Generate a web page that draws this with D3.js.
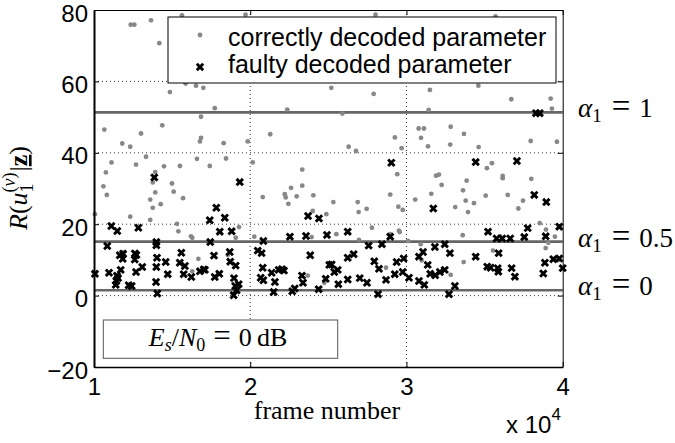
<!DOCTYPE html>
<html><head><meta charset="utf-8">
<script src="https://cdn.jsdelivr.net/npm/d3@7"></script>
<style>body{margin:0;background:#fff} svg{display:block}</style>
</head><body>
<svg id="chart" width="675" height="443"></svg>
<script>
// ---- data ----
const xTicks = [10000, 20000, 30000, 40000];
const yTicks = [-20, 0, 20, 40, 60, 80];
const alphaLevels = [
  {label: "1", value: 51.3},
  {label: "0.5", value: 15.1},
  {label: "0", value: 1.5}
];
// [frame number, R]
const correctlyDecoded = [
[12350,75.9],[12580,75.9],[13650,77.1],[14180,70.7],[15630,78.5],[19700,78.7],
[14860,57.0],[15860,59.4],[16530,58.8],[17000,58.2],[17730,52.5],[22370,52.1],[16850,50.1],
[10660,46.5],[14370,47.7],[13010,45.4],[11810,42.6],[12320,41.7],[16850,44.2],[16780,43.2],[18300,42.7],[19840,43.2],[21280,45.2],
[13330,38.9],[11120,37.3],[12690,36.7],[14480,36.2],[15500,36.3],[17410,36.3],[18450,38.4],[20160,37.3],[16590,38.3],
[10760,34.5],[10600,30.6],[10820,28.2],[10060,22.8],[13920,34.6],[13760,31.7],[13920,28.9],[13600,26.9],[13760,24.6],[14270,25.6],[14990,31.4],[15100,29.1],[15700,27.3],
[13600,21.2],[12320,22.1],[15310,20.1],[15400,18.0],[16210,16.6],[16290,16.2],[19280,19.2],[19070,16.2],
[20800,27.6],[22210,28.4],[22270,27.5],[22440,25.7],[22610,30.2],[22970,27.8],[23330,35.3],[23330,30.8],[24040,28.1],[24000,23.7],[24870,22.8],
[20260,16.5],[23930,16.4],[11860,12.2],[16680,10.3],[16290,6.8],[18560,11.4],[23680,5.6],[24740,3.6],
[25190,58.2],[28020,78.7],[35700,78.2],[27900,56.5],[31500,57.6],[34600,58.8],[36710,55.0],[39230,55.2],[39310,52.4],
[25900,51.0],[31420,52.0],[30780,46.8],[31120,46.8],[32830,47.3],[30930,44.2],[33680,45.3],[29260,44.3],
[26300,41.7],[26770,40.5],[29690,41.3],[31380,41.8],[32800,42.3],[34620,41.6],[37950,43.3],[39630,43.1],
[25320,26.2],[26880,26.2],[26940,23.4],[27450,24.3],[29410,34.0],[28960,28.3],[29480,24.9],[29760,24.0],[30560,26.9],
[31890,33.6],[32080,33.9],[32250,31.0],[31590,28.5],[33120,24.8],[33620,29.5],[33850,32.2],[33790,26.6],[33940,23.4],[34320,25.9],
[35150,35.7],[35470,37.1],[36160,33.5],[36160,32.9],[35070,28.0],[36480,28.2],[37990,32.7],[37460,26.6],[37160,24.4],
[38530,20.3],[38930,18.5],[39500,16.5],[25510,17.2],[27790,19.0],[26960,15.6],[28960,17.2],[29520,18.2],[29570,17.8],
[30100,15.3],[30910,14.4],[33600,16.9],[33660,9.4],[35540,12.6],[36000,16.6],[38910,13.3],[39080,14.8],[39490,10.3],[39720,10.0],
[28690,7.8],[32830,5.8],[30970,9.9]
];
const faultyDecoded = [
[13860,33.1],[19330,31.8],[17830,24.6],[18370,21.8],[17410,21.1],[18050,17.9],[18810,18.0],[11110,19.5],[11490,18.1],[12840,19.0],
[23700,22.3],[24400,21.6],[22540,16.5],[23570,16.7],[24910,17.0],[10850,13.9],[13990,15.0],[13990,14.1],[17440,15.0],[20840,15.3],
[11650,11.3],[11840,10.3],[11860,11.7],[12620,11.8],[12610,10.1],[12710,11.4],[13090,8.0],[12690,6.6],[11710,7.2],[10960,6.4],[10060,6.1],
[11470,5.6],[11430,4.1],[11540,4.9],[11390,3.0],[12220,2.9],[12410,2.7],[14030,10.6],[14590,9.4],[13990,8.0],[14720,6.0],[13970,3.8],[14050,0.6],
[15590,12.0],[15490,9.2],[15820,8.3],[15740,6.0],[16230,5.2],[16780,6.8],[17020,7.3],[17100,7.2],[17680,11.2],[17730,5.2],[18020,6.1],
[18690,12.2],[18720,9.5],[19070,8.4],[18960,4.9],[19040,2.7],[19260,3.2],[19130,1.5],[18940,0.1],
[20480,12.6],[20730,11.9],[20800,7.8],[20670,5.0],[20840,4.3],[21370,6.4],[21580,3.8],[21820,7.2],[22030,7.4],[22160,7.0],
[23840,11.3],[23310,5.6],[23380,3.6],[24830,4.7],[25060,8.6],[21500,1.0],[22690,1.2],[22850,2.0],[24380,1.8],
[29030,37.2],[34430,37.4],[37070,37.7],[31720,24.4],[38180,28.2],[38950,26.2],[26240,17.9],[28960,16.5],[27580,14.0],[28430,14.4],
[31820,13.6],[32450,14.4],[35220,17.9],[37760,18.9],[37540,16.4],[35770,16.0],[36130,16.0],[36640,16.0],[38910,16.6],[39780,19.3],
[26240,10.6],[26620,11.6],[25210,8.7],[25380,6.6],[25600,7.2],[25640,3.2],[26240,4.5],[27010,4.9],[27470,3.6],[27940,9.6],[28240,7.5],
[28690,4.4],[29250,6.0],[29370,9.4],[29820,10.4],[29760,6.6],[30160,5.0],[30800,10.9],[31060,12.2],[31360,8.6],[31520,6.1],[31840,5.7],
[32140,6.6],[32450,7.2],[32780,11.9],[30800,4.1],[31140,3.0],[33100,2.7],[34430,10.9],[35170,8.1],[35390,7.8],[35900,11.9],[35840,7.7],
[35880,6.7],[36730,7.7],[36940,5.3],[38760,6.2],[38860,9.2],[39400,10.2],[39780,10.4],[40000,7.7],[28180,0.4],[32720,0.4],[38290,51.1],[38530,51.1]
];
const legendLabels = ["correctly decoded parameter", "faulty decoded parameter"];

// ---- layout ----
const svg = d3.select("#chart");
const L = 94, R = 562.7, T = 10, B = 367;
const x = d3.scaleLinear().domain([10000, 40000]).range([L, R]);
const y = d3.scaleLinear().domain([-20, 80]).range([B, T]);
const SANS = "'Liberation Sans', Arial, Helvetica, sans-serif";
const SERIF = "'Liberation Serif', 'Times New Roman', serif";
const crossPath = "M-3.2,-3.2L3.2,3.2M-3.2,3.2L3.2,-3.2";

// grid
const grid = svg.append("g").attr("stroke", "#000").attr("stroke-width", 0.8).attr("stroke-dasharray", "1,3");
grid.selectAll("line.gx").data(xTicks.slice(1, -1)).join("line")
  .attr("x1", d => x(d)).attr("x2", d => x(d)).attr("y1", T).attr("y2", B);
grid.selectAll("line.gy").data(yTicks.slice(1, -1)).join("line")
  .attr("x1", L).attr("x2", R).attr("y1", d => y(d)).attr("y2", d => y(d));

// alpha lines
svg.append("g").selectAll("line").data(alphaLevels).join("line")
  .attr("x1", x(10000)).attr("x2", x(40000))
  .attr("y1", d => y(d.value)).attr("y2", d => y(d.value))
  .attr("stroke", "#666").attr("stroke-width", 2.7);

// points
svg.append("g").selectAll("circle").data(correctlyDecoded).join("circle")
  .attr("cx", d => x(d[0])).attr("cy", d => y(d[1])).attr("r", 2.4).attr("fill", "#888");
svg.append("g").selectAll("path").data(faultyDecoded).join("path")
  .attr("d", crossPath).attr("transform", d => `translate(${x(d[0])},${y(d[1])})`)
  .attr("stroke", "#000").attr("stroke-width", 2.9).attr("fill", "none");

// axes
function styleAxis(g) {
  g.selectAll("text").attr("font-family", SANS).attr("font-size", 24).attr("fill", "#000");
  g.selectAll("line").attr("stroke", "#000");
}
svg.append("g").attr("transform", `translate(0,${B})`)
  .call(d3.axisBottom(x).tickValues(xTicks).tickSizeInner(-5).tickSizeOuter(0).tickPadding(11).tickFormat(d => d / 1e4))
  .call(styleAxis).call(g => g.select(".domain").attr("stroke", "#000").attr("stroke-width", 1.5));
svg.append("g").attr("transform", `translate(0,${T})`)
  .call(d3.axisTop(x).tickValues(xTicks).tickSizeInner(-5).tickSizeOuter(0).tickFormat(""))
  .call(styleAxis).call(g => g.select(".domain").attr("stroke", "#000").attr("stroke-width", 1));
svg.append("g").attr("transform", `translate(${L},0)`)
  .call(d3.axisLeft(y).tickValues(yTicks).tickSizeInner(-5).tickSizeOuter(0).tickPadding(6))
  .call(styleAxis).call(g => g.select(".domain").attr("stroke", "#000").attr("stroke-width", 2))
  .call(g => g.selectAll("text").attr("dy", "0.46em"));
svg.append("g").attr("transform", `translate(${R},0)`)
  .call(d3.axisRight(y).tickValues(yTicks).tickSizeInner(-5).tickSizeOuter(0).tickFormat(""))
  .call(styleAxis).call(g => g.select(".domain").attr("stroke", "#000").attr("stroke-width", 1));

// x 10^4
const xe = svg.append("text").attr("x", 506).attr("y", 433).attr("font-family", SANS).attr("font-size", 24);
xe.append("tspan").text("x 10");
xe.append("tspan").attr("font-size", 17).attr("dy", -13).text("4");

// x label
svg.append("text").attr("x", 327).attr("y", 419).attr("text-anchor", "middle")
  .attr("font-family", SERIF).attr("font-size", 26).text("frame number");

// y label
const yl = svg.append("text").attr("transform", "translate(27,188) rotate(-90)")
  .attr("text-anchor", "middle").attr("font-family", SERIF).attr("font-size", 26);
yl.append("tspan").attr("font-style", "italic").text("R");
yl.append("tspan").text("(");
yl.append("tspan").attr("font-style", "italic").text("u");
yl.append("tspan").attr("font-size", 18).attr("dy", 6).text("1");
yl.append("tspan").attr("font-size", 18).attr("dx", -9).attr("dy", -18).text("(").append("tspan").attr("font-style", "italic").text("ν");
yl.append("tspan").attr("font-size", 18).text(")");
yl.append("tspan").attr("dx", 1).attr("dy", 12).text("|");
yl.append("tspan").attr("font-weight", "bold").attr("text-decoration", "underline").text("z");
yl.append("tspan").text(")");

// alpha labels
alphaLevels.forEach(a => {
  const t = svg.append("text").attr("x", 578).attr("y", y(a.value) + 5)
    .attr("font-family", SERIF).attr("font-size", 27);
  t.append("tspan").attr("font-style", "italic").text("α");
  t.append("tspan").attr("font-size", 19).attr("dy", 5).text("1");
  t.append("tspan").attr("dy", -5).attr("dx", 10).attr("font-size", 33).text("=");
  t.append("tspan").attr("dx", 9).text(a.label);
});

// Es/N0 box
svg.append("rect").attr("x", 103.3).attr("y", 320).attr("width", 234.4).attr("height", 38.3)
  .attr("fill", "#fff").attr("stroke", "#555").attr("stroke-width", 1);
const es = svg.append("text").attr("x", 218).attr("y", 345.7).attr("text-anchor", "middle")
  .attr("font-family", SERIF).attr("font-size", 26);
es.append("tspan").attr("font-style", "italic").text("E");
es.append("tspan").attr("font-style", "italic").attr("font-size", 18).attr("dy", 5).text("s");
es.append("tspan").attr("dy", -5).text("/");
es.append("tspan").attr("font-style", "italic").text("N");
es.append("tspan").attr("font-size", 18).attr("dy", 5).text("0");
es.append("tspan").attr("dy", -5).attr("dx", 8).attr("font-size", 31).text("=");
es.append("tspan").attr("dx", 8).text("0\u2009dB");

// legend
const lg = svg.append("g");
lg.append("rect").attr("x", 168).attr("y", 17).attr("width", 388).attr("height", 66)
  .attr("fill", "#fff").attr("stroke", "#000").attr("stroke-width", 1);
lg.append("circle").attr("cx", 200).attr("cy", 35).attr("r", 2.4).attr("fill", "#888");
lg.append("path").attr("d", crossPath).attr("transform", "translate(200,67)")
  .attr("stroke", "#000").attr("stroke-width", 2.9);
lg.selectAll("text").data(legendLabels).join("text")
  .attr("x", 228).attr("y", (d, i) => i === 0 ? 45.5 : 73)
  .attr("font-family", SANS).attr("font-size", 25).text(d => d);
</script>
</body></html>
